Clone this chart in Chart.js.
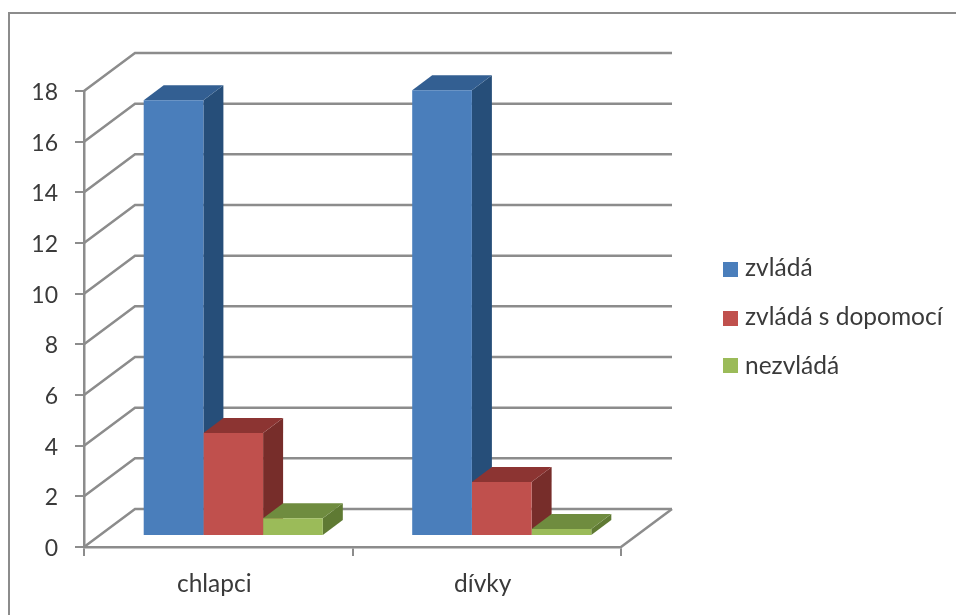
<!DOCTYPE html>
<html>
<head>
<meta charset="utf-8">
<style>
  html, body { margin: 0; padding: 0; background: #fff; }
  #wrap { position: relative; width: 956px; height: 615px; overflow: hidden; }
  #frame { position: absolute; left: 8px; top: 12px; width: 960px; height: 640px; border: 2px solid #8c8c8c; box-sizing: border-box; }
  canvas { position: absolute; left: 0; top: 0; }
</style>
<script src="https://cdn.jsdelivr.net/npm/chart.js@4"></script>
</head>
<body>
<div id="wrap">
  <div id="frame"></div>
  <canvas id="chart" width="956" height="615"></canvas>
</div>
<script>
const categories = ['chlapci', 'dívky'];
const zvlada = [17.2, 17.6];
const zvladaDopomoc = [4.07, 2.13];
const nezvlada = [0.7, 0.28];
const seriesNames = ['zvládá', 'zvládá s dopomocí', 'nezvládá'];

const frontColors = ['#4a7ebb', '#c0504d', '#9bbb59'];
const topColors = ['#335f92', '#8c3432', '#6f8c3f'];
const sideColors = ['#264e79', '#772d2a', '#5f7a33'];

const lineColor = '#8c8c8c';
const textColor = '#3a3a3a';
const fontFamily = 'Lato, sans-serif';

// wall and floor depth
const wallDx = 51, wallDy = 38;
// where the bars stand on the floor
const barDx = 15, barDy = 11;
// how deep each bar is
const depthDx = 20, depthDy = 15;

function poly(ctx, color, pts) {
    ctx.fillStyle = color;
    ctx.beginPath();
    pts.forEach((p, i) => i ? ctx.lineTo(p[0], p[1]) : ctx.moveTo(p[0], p[1]));
    ctx.closePath();
    ctx.fill();
}

const box3d = {
    id: 'box3d',
    beforeDatasetsDraw(chart) {
        const { ctx, chartArea, scales } = chart;
        const left = chartArea.left, right = chartArea.right;

        // back wall lines, going back from each tick
        ctx.save();
        ctx.strokeStyle = lineColor;
        ctx.lineWidth = 2.5;
        scales.y.ticks.forEach(t => {
            const y = scales.y.getPixelForValue(t.value);
            ctx.beginPath();
            ctx.moveTo(left, y);
            ctx.lineTo(left + wallDx, y - wallDy);
            ctx.lineTo(right + wallDx, y - wallDy);
            ctx.stroke();
        });
        // right edge of the floor
        const y0 = scales.y.getPixelForValue(0);
        ctx.beginPath();
        ctx.moveTo(right, y0);
        ctx.lineTo(right + wallDx, y0 - wallDy);
        ctx.stroke();
        ctx.restore();

        // side and top faces, left to right so later bars cover earlier ones
        categories.forEach((_, c) => {
            chart.data.datasets.forEach((_, d) => {
                const bar = chart.getDatasetMeta(d).data[c];
                const x0 = bar.x - bar.width / 2 + barDx;
                const x1 = bar.x + bar.width / 2 + barDx;
                const top = bar.y - barDy;
                const base = bar.base - barDy;
                poly(ctx, sideColors[d], [[x1, top], [x1 + depthDx, top - depthDy], [x1 + depthDx, base - depthDy], [x1, base]]);
                poly(ctx, topColors[d], [[x0, top], [x0 + depthDx, top - depthDy], [x1 + depthDx, top - depthDy], [x1, top]]);
            });
        });

        // the library's bars become the front faces
        ctx.save();
        ctx.translate(barDx, -barDy);
    },
    afterDatasetsDraw(chart) {
        chart.ctx.restore();
    },
    afterDraw(chart) {
        // legend
        const { ctx } = chart;
        const rows = [268, 317, 366];
        const swatches = [262, 311, 358];
        ctx.save();
        ctx.font = '24.5px ' + fontFamily;
        ctx.textBaseline = 'middle';
        chart.data.datasets.forEach((ds, i) => {
            ctx.fillStyle = frontColors[i];
            ctx.fillRect(723, swatches[i], 15, 15);
            ctx.fillStyle = textColor;
            ctx.fillText(ds.label, 745, rows[i]);
        });
        ctx.restore();
    }
};

new Chart(document.getElementById('chart'), {
    type: 'bar',
    data: {
        labels: categories,
        datasets: [
            { label: seriesNames[0], data: zvlada, backgroundColor: frontColors[0] },
            { label: seriesNames[1], data: zvladaDopomoc, backgroundColor: frontColors[1] },
            { label: seriesNames[2], data: nezvlada, backgroundColor: frontColors[2] }
        ]
    },
    options: {
        responsive: false,
        animation: false,
        layout: { padding: { left: 0, top: 91, right: 335, bottom: 0 } },
        plugins: { legend: { display: false }, tooltip: { enabled: false } },
        datasets: { bar: { categoryPercentage: 0.667, barPercentage: 1 } },
        scales: {
            x: {
                afterFit(scale) { scale.height = 68; },
                grid: { drawOnChartArea: false, color: lineColor, lineWidth: 2, tickLength: 9 },
                border: { color: lineColor, width: 2.5 },
                ticks: { color: textColor, font: { family: fontFamily, size: 24.5 }, padding: 13, labelOffset: -4, maxRotation: 0 }
            },
            y: {
                min: 0,
                max: 18,
                afterFit(scale) { scale.width = 84; },
                grid: { drawOnChartArea: false, color: lineColor, lineWidth: 2, tickLength: 9 },
                border: { color: lineColor, width: 2.5 },
                ticks: { stepSize: 2, color: textColor, font: { family: fontFamily, size: 23 }, padding: 17, labelOffset: 1.5 }
            }
        }
    },
    plugins: [box3d]
});
</script>
</body>
</html>
